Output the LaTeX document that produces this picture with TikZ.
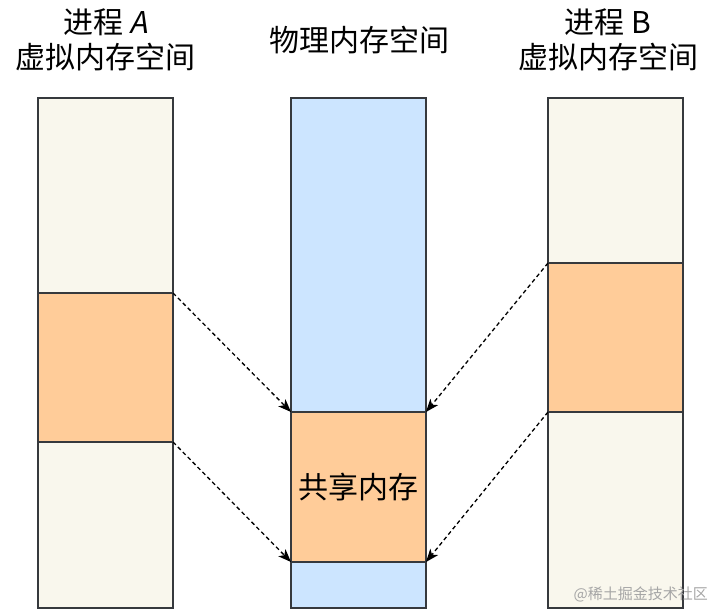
\documentclass[tikz,border=0pt]{standalone}
\usepackage{fontspec}
\setmainfont{Noto Sans CJK SC}[AutoFakeSlant=0.2]
\usetikzlibrary{arrows.meta}
\definecolor{cream}{HTML}{F9F7ED}
\definecolor{orng}{HTML}{FFCC99}
\definecolor{lblue}{HTML}{CCE5FF}
\definecolor{edge}{HTML}{36393D}
\tikzset{
  seg/.style={draw=edge, line width=1.4pt, minimum width=135pt, anchor=north west, inner sep=0pt, outer sep=0pt},
  conn/.style={draw=black, line width=1.3pt, dash pattern=on 4pt off 3pt, -{Stealth[length=13pt,width=10pt,inset=3.5pt]}},
  title/.style={font=\fontsize{30pt}{35pt}\selectfont, align=center, text=black, inner sep=0pt},
}
\begin{document}
\begin{tikzpicture}[x=1pt,y=-1pt]
\useasboundingbox (0,0) rectangle (714,609);
% left column
\node[seg, fill=cream, minimum height=195pt] (a1) at (38,98) {};
\node[seg, fill=orng,  minimum height=149pt] (a2) at (38,293) {};
\node[seg, fill=cream, minimum height=166pt] (a3) at (38,442) {};
% middle column
\node[seg, fill=lblue, minimum height=314pt] (m1) at (291,98) {};
\node[seg, fill=orng,  minimum height=150pt, font=\fontsize{30pt}{35pt}\selectfont] (m2) at (291,412) {共享内存};
\node[seg, fill=lblue, minimum height=46pt] (m3) at (291,562) {};
% right column
\node[seg, fill=cream, minimum height=165pt] (b1) at (548,98) {};
\node[seg, fill=orng,  minimum height=149pt] (b2) at (548,263) {};
\node[seg, fill=cream, minimum height=196pt] (b3) at (548,412) {};
% titles
\node[title] (ta) at (105.5,40) {进程 \textit{A}\\虚拟内存空间};
\node[title] (tm) at (359,40) {物理内存空间};
\node[title] (tb) at (608,40) {进程 B\\虚拟内存空间};
% connectors
\draw[conn] (a2.north east) -- (m2.north west);
\draw[conn] (a3.north east) -- (m3.north west);
\draw[conn] (b2.north west) -- (m2.north east);
\draw[conn] (b3.north west) -- (m3.north east);
% watermark
\node[text=black!35, font=\fontsize{15pt}{18pt}\selectfont, anchor=east, inner sep=0pt] (wm) at (708,594) {@稀土掘金技术社区};
\end{tikzpicture}
\end{document}
